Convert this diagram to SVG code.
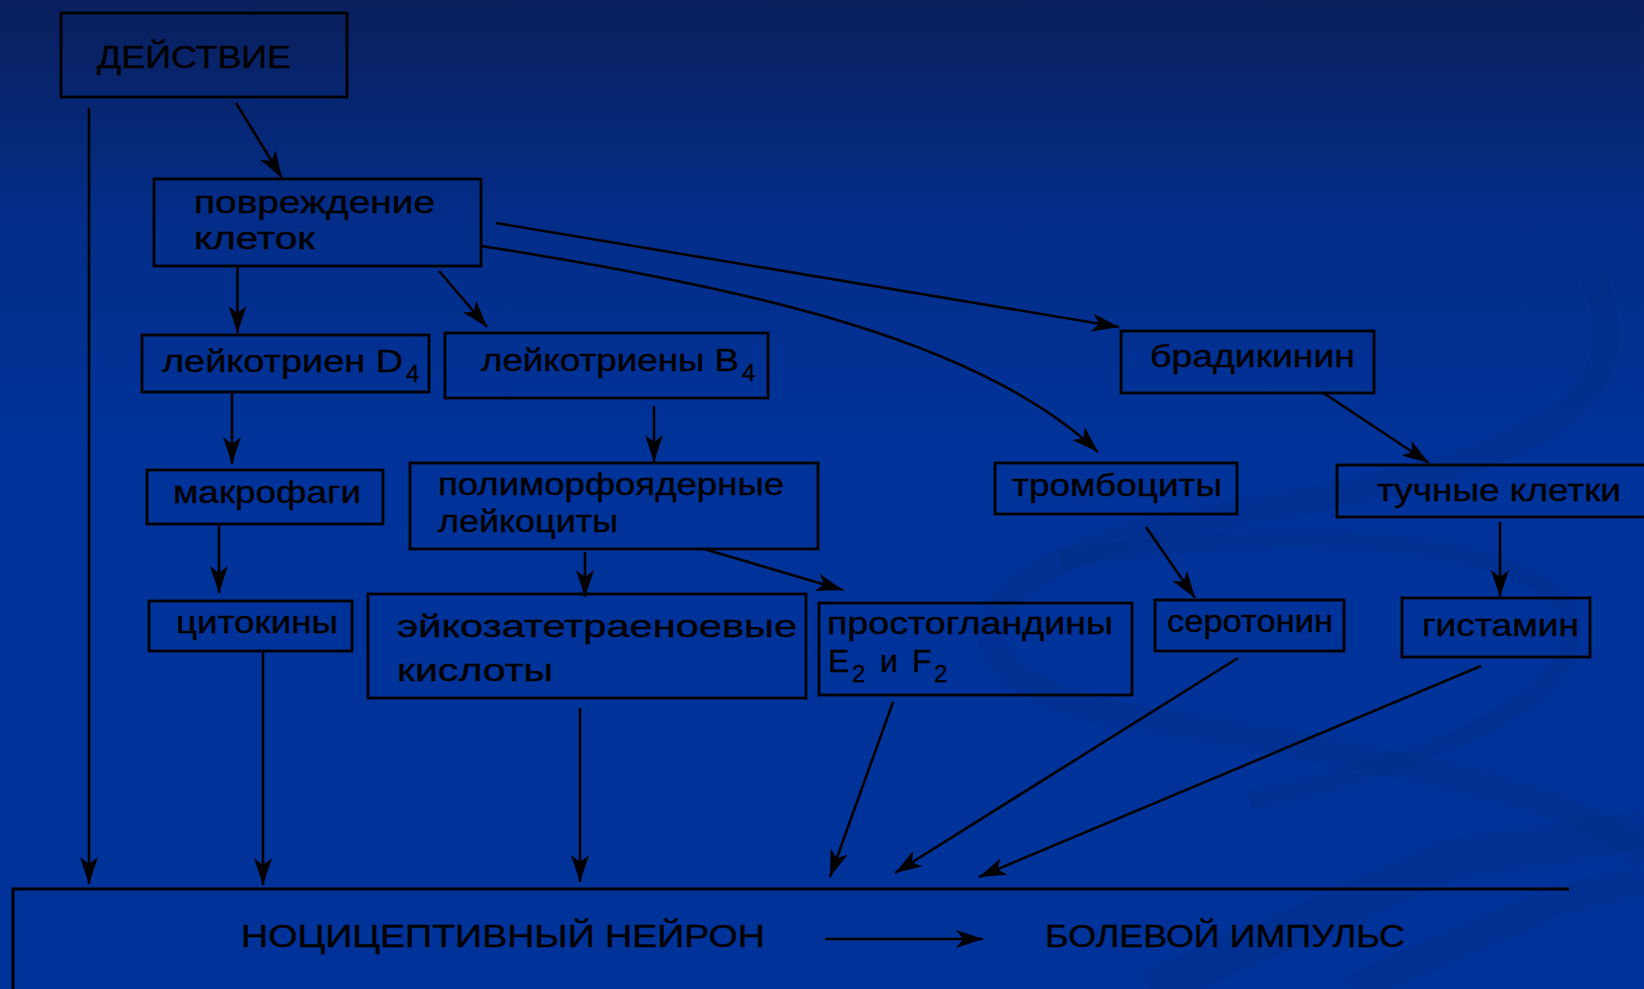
<svg xmlns="http://www.w3.org/2000/svg" width="1644" height="989" viewBox="0 0 1644 989">
<defs>
<linearGradient id="bg" x1="0" y1="0" x2="0" y2="1">
<stop offset="0" stop-color="#0a1f5c"/>
<stop offset="0.22" stop-color="#032d88"/>
<stop offset="0.45" stop-color="#003399"/>
<stop offset="1" stop-color="#003399"/>
</linearGradient>
<marker id="ah" markerUnits="userSpaceOnUse" markerWidth="30" markerHeight="20" refX="27" refY="9" orient="auto">
<path d="M0,0 L27,9 L0,18 L7,9 z" fill="#000"/>
</marker>
<style>
.box{fill:none;stroke:#000;stroke-width:2.8}
.t{font-family:"Liberation Sans",Arial,sans-serif;font-size:32px;fill:#000;stroke:#000;stroke-width:0.4}
.sub{font-size:24px}
.c{fill:none;stroke:#000;stroke-width:2.6}
.a{marker-end:url(#ah)}
.sw{fill:none;stroke:#002a7c;stroke-opacity:0.28}
</style>
</defs>
<rect x="0" y="0" width="1644" height="989" fill="url(#bg)"/>
<g id="swirls">
<path class="sw" stroke-width="26" d="M1590,270 C1660,420 1500,470 1200,520 C930,570 930,690 1150,720 C1400,760 1600,800 1644,860"/>
<path class="sw" stroke-width="18" d="M1060,560 C1300,520 1500,540 1560,600 C1620,680 1450,760 1250,800"/>
<path class="sw" stroke-width="40" d="M1150,989 L1450,860 L1644,830"/>
<path class="sw" stroke-width="30" d="M1350,989 L1560,900 L1644,880"/>
</g>
<g id="connectors">
<path class="c a" stroke-width="3" d="M89,108 V884"/>
<path class="c a" d="M236,103 L282,178"/>
<path class="c a" d="M237.5,265 V333"/>
<path class="c a" d="M439,271 L487,327"/>
<path class="c a" d="M496,223 L1119,327"/>
<path class="c a" d="M481,246 C750,288 980,340 1098,452"/>
<path class="c a" d="M654,406 V462"/>
<path class="c a" d="M232,392 V464"/>
<path class="c a" d="M219,524 V593"/>
<path class="c a" d="M585,552 V597"/>
<path class="c a" d="M704,549 L843,590"/>
<path class="c a" d="M1322,392 L1429,463"/>
<path class="c a" d="M1146,527 L1195,598"/>
<path class="c a" d="M1500,522 V597"/>
<path class="c a" d="M263,651 V885"/>
<path class="c a" d="M580,708 V882"/>
<path class="c a" d="M893,702 L830,877"/>
<path class="c a" d="M1238,658 L895,873"/>
<path class="c a" d="M1481,666 L979,877"/>
<path class="c a" d="M825,939 H983"/>
</g>
<g id="n-deistvie">
<rect class="box" x="61" y="13" width="286" height="84"/>
<text class="t" x="97" y="68" font-size="34" textLength="194" lengthAdjust="spacingAndGlyphs">ДЕЙСТВИЕ</text>
</g>
<g id="n-povrezhdenie">
<rect class="box" x="154" y="179" width="327" height="87"/>
<text class="t" x="194" y="213" textLength="241" lengthAdjust="spacingAndGlyphs">повреждение</text>
<text class="t" x="194" y="249" textLength="121" lengthAdjust="spacingAndGlyphs">клеток</text>
</g>
<g id="n-leukD4">
<rect class="box" x="142" y="335" width="287" height="57"/>
<text class="t" x="162" y="372" textLength="241" lengthAdjust="spacingAndGlyphs">лейкотриен D</text>
<text class="t sub" x="406" y="382">4</text>
</g>
<g id="n-leukB4">
<rect class="box" x="445" y="333" width="323" height="65"/>
<text class="t" x="481" y="371" textLength="258" lengthAdjust="spacingAndGlyphs">лейкотриены B</text>
<text class="t sub" x="742" y="381">4</text>
</g>
<g id="n-bradikinin">
<rect class="box" x="1121" y="331" width="253" height="62"/>
<text class="t" x="1150" y="367" textLength="205" lengthAdjust="spacingAndGlyphs">брадикинин</text>
</g>
<g id="n-makrofagi">
<rect class="box" x="147" y="470" width="236" height="54"/>
<text class="t" x="173" y="503" textLength="188" lengthAdjust="spacingAndGlyphs">макрофаги</text>
</g>
<g id="n-polimorfo">
<rect class="box" x="410" y="463" width="408" height="86"/>
<text class="t" x="438" y="495" textLength="346" lengthAdjust="spacingAndGlyphs">полиморфоядерные</text>
<text class="t" x="438" y="532" textLength="180" lengthAdjust="spacingAndGlyphs">лейкоциты</text>
</g>
<g id="n-trombocity">
<rect class="box" x="995" y="463" width="242" height="51"/>
<text class="t" x="1012" y="496" textLength="210" lengthAdjust="spacingAndGlyphs">тромбоциты</text>
</g>
<g id="n-tuchnye">
<rect class="box" x="1337" y="465" width="320" height="52"/>
<text class="t" x="1377" y="501" textLength="244" lengthAdjust="spacingAndGlyphs">тучные клетки</text>
</g>
<g id="n-citokiny">
<rect class="box" x="149" y="601" width="203" height="50"/>
<text class="t" x="176" y="633" textLength="162" lengthAdjust="spacingAndGlyphs">цитокины</text>
</g>
<g id="n-eikoza">
<rect class="box" x="368" y="594" width="438" height="104"/>
<text class="t" x="397" y="637" font-size="35" textLength="400" lengthAdjust="spacingAndGlyphs">эйкозатетраеноевые</text>
<text class="t" x="397" y="681" font-size="35" textLength="156" lengthAdjust="spacingAndGlyphs">кислоты</text>
</g>
<g id="n-prosto">
<rect class="box" x="819" y="603" width="313" height="92"/>
<text class="t" x="827" y="634" textLength="286" lengthAdjust="spacingAndGlyphs">простогландины</text>
<text class="t" x="828" y="672">E</text>
<text class="t sub" x="852" y="682">2</text>
<text class="t" x="880" y="672">и</text>
<text class="t" x="912" y="672">F</text>
<text class="t sub" x="934" y="682">2</text>
</g>
<g id="n-serotonin">
<rect class="box" x="1155" y="600" width="189" height="51"/>
<text class="t" x="1167" y="632" textLength="166" lengthAdjust="spacingAndGlyphs">серотонин</text>
</g>
<g id="n-gistamin">
<rect class="box" x="1402" y="598" width="188" height="59"/>
<text class="t" x="1422" y="636" textLength="157" lengthAdjust="spacingAndGlyphs">гистамин</text>
</g>
<g id="n-neuron">
<path d="M13,995 V889 H1569" fill="none" stroke="#000" stroke-width="3"/>
<text class="t" x="241" y="947" font-size="31" textLength="524" lengthAdjust="spacingAndGlyphs">НОЦИЦЕПТИВНЫЙ НЕЙРОН</text>
<text class="t" x="1045" y="947" font-size="31" textLength="360" lengthAdjust="spacingAndGlyphs">БОЛЕВОЙ ИМПУЛЬС</text>
</g>
</svg>
